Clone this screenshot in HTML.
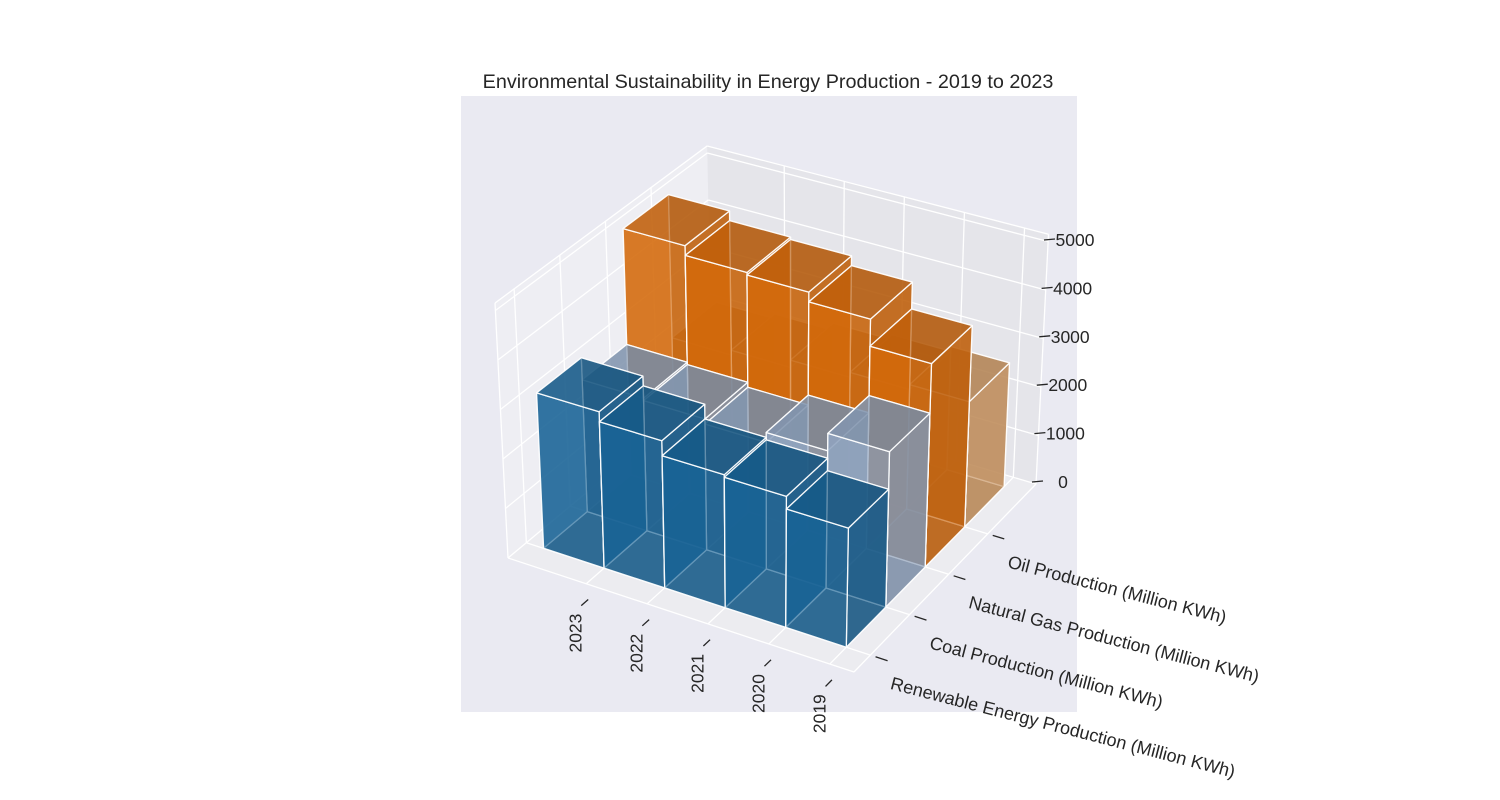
<!DOCTYPE html>
<html><head><meta charset="utf-8"><style>
body{margin:0;background:#fff;}
svg{display:block;font-family:"Liberation Sans",Arial,sans-serif;}
</style></head><body>
<svg id="chart" width="1500" height="800" viewBox="0 0 1500 800" xmlns="http://www.w3.org/2000/svg">
<rect x="0" y="0" width="1500" height="800" fill="#ffffff"/>
<rect x="461" y="96" width="616" height="616" fill="#eaeaf2"/>
<text x="768" y="88" text-anchor="middle" font-size="19.8" fill="#262626">Environmental Sustainability in Energy Production - 2019 to 2023</text>
<g id="panes"></g>
<g id="bars"></g>
<g id="axes"></g>
</svg>
<script>
const years = ['2023','2022','2021','2020','2019'];
const categories = ['Renewable Energy Production (Million KWh)','Coal Production (Million KWh)','Natural Gas Production (Million KWh)','Oil Production (Million KWh)'];
const renewable = [3150,2950,2650,2600,2350];
const coal = [2700,2650,2550,2750,3100];
const naturalGas = [5100,4900,4850,4650,4100];
const oil = [2100,2200,2350,2450,2550];
const zTicks = [0,1000,2000,3000,4000,5000];
const seriesColors = ['#1f77b4','#aec7e8','#ff7f0e','#ffbb78'];

const NS='http://www.w3.org/2000/svg';
const A=[508,558],B=[854,672],C=[1036,484],D=[712,388];
const K=[49.5,51,48.5,47], T=[-0.051,0.02,0.05,-0.02];
const ZTOP=5150, U0=0.05, DU=0.176, V0=0.09, DV=0.215;
function bil(a,b,c,d,u,v){return a*(1-u)*(1-v)+b*u*(1-v)+c*u*v+d*(1-u)*v;}
function P(u,v,val){
  const fx=bil(A[0],B[0],C[0],D[0],u,v), fy=bil(A[1],B[1],C[1],D[1],u,v);
  const h=val/1000*bil(K[0],K[1],K[2],K[3],u,v);
  const t=bil(T[0],T[1],T[2],T[3],u,v);
  return [fx+t*h, fy-h];
}
function xStart(i){return U0+DU*i;}
function yStart(j){return V0+DV*j;}
function zAxisY(val){return 482-val*0.0484;}
function pts(a){return a.map(p=>p[0].toFixed(1)+','+p[1].toFixed(1)).join(' ');}
function mk(tag,attrs,parent){const e=document.createElementNS(NS,tag);for(const k in attrs)e.setAttribute(k,attrs[k]);parent.appendChild(e);return e;}
function shade(hex,f){
  const r=parseInt(hex.slice(1,3),16),g=parseInt(hex.slice(3,5),16),b=parseInt(hex.slice(5,7),16);
  return 'rgb('+Math.round(r*f)+','+Math.round(g*f)+','+Math.round(b*f)+')';
}

const panes=document.getElementById('panes');
let e=mk('polygon',{points:pts([P(0,0,0),P(1,0,0),P(1,1,0),P(0,1,0)]),fill:'#ececf0'},panes);


e=mk('polygon',{points:pts([P(0,0,0),P(0,1,0),P(0,1,ZTOP),P(0,0,ZTOP)]),fill:'#eeeef3'},panes);


e=mk('polygon',{points:pts([P(0,1,0),P(1,1,0),P(1,1,ZTOP),P(0,1,ZTOP)]),fill:'#e5e5ea'},panes);


function gl(p,q,name){const l=mk('line',{x1:p[0],y1:p[1],x2:q[0],y2:q[1],stroke:'#ffffff','stroke-width':1.3},panes);
  
  }
years.forEach((y,i)=>{const u=xStart(i+1);gl(P(u,0,0),P(u,1,0),'floor-gridline-x');gl(P(u,1,0),P(u,1,ZTOP),'back-wall-gridline-x');});
categories.forEach((c,j)=>{const v=yStart(j);gl(P(0,v,0),P(1,v,0),'floor-gridline-y');gl(P(0,v,0),P(0,v,ZTOP),'left-wall-gridline-y');});
zTicks.forEach(z=>{gl(P(0,0,z),P(0,1,z),'left-wall-gridline-z');gl(P(0,1,z),P(1,1,z),'back-wall-gridline-z');});
gl(P(0,0,0),P(1,0,0),'x-axis-line');gl(P(1,0,0),P(1,1,0),'y-axis-line');gl(P(1,1,0),P(1,1,ZTOP),'z-axis-line');
gl(P(0,0,0),P(0,0,ZTOP),'pane-edge');gl(P(0,0,ZTOP),P(0,1,ZTOP),'pane-edge');gl(P(0,1,ZTOP),P(1,1,ZTOP),'pane-edge');

const seriesList=[renewable,coal,naturalGas,oil];
const barsG=document.getElementById('bars');
const order=[];
for(let j=seriesList.length-1;j>=0;j--) for(let i=0;i<years.length;i++) order.push([i,j]);
order.forEach(([i,j])=>{
  const val=seriesList[j][i];
  const u0=xStart(i),u1=xStart(i+1),v0=yStart(j),v1=yStart(j+1);
  const col=seriesColors[j];
  const g=mk('g',{},barsG);
  
  
  const faces=[
    [[P(u0,v0,0),P(u1,v0,0),P(u1,v1,0),P(u0,v1,0)],0.55],
    [[P(u0,v1,0),P(u1,v1,0),P(u1,v1,val),P(u0,v1,val)],0.65],
    [[P(u0,v0,0),P(u0,v1,0),P(u0,v1,val),P(u0,v0,val)],0.85],
    [[P(u1,v0,0),P(u1,v1,0),P(u1,v1,val),P(u1,v0,val)],0.78],
    [[P(u0,v0,0),P(u1,v0,0),P(u1,v0,val),P(u0,v0,val)],0.82],
    [[P(u0,v0,val),P(u1,v0,val),P(u1,v1,val),P(u0,v1,val)],0.72]
  ];
  faces.forEach(([poly,f])=>{
    mk('polygon',{points:pts(poly),fill:shade(col,f),'fill-opacity':0.66,stroke:'#ffffff','stroke-width':1.3,'stroke-opacity':0.9,'stroke-linejoin':'round'},g);
  });
});

const ax=document.getElementById('axes');
years.forEach((y,i)=>{
  const u=xStart(i+1);
  const p=P(u,-0.01,0),q=P(u,-0.045,0);
  let t=mk('line',{x1:p[0]+4,y1:p[1]+14,x2:q[0]+4,y2:q[1]+14,stroke:'#262626','stroke-width':1.3},ax);
  
  
  const m=[(p[0]+q[0])/2+4,(p[1]+q[1])/2+14];
  const tx=mk('text',{x:0,y:0,'font-size':17.5,fill:'#262626','text-anchor':'end',transform:'translate('+(m[0]-3).toFixed(1)+','+(m[1]+11).toFixed(1)+') rotate(-90)'},ax);
  tx.textContent=y;
  
  
});
categories.forEach((c,j)=>{
  const v=yStart(j);
  const p=P(1.015,v,0),q=P(1.05,v,0);
  let t=mk('line',{x1:p[0],y1:p[1],x2:q[0],y2:q[1],stroke:'#262626','stroke-width':1.3},ax);
  
  
  const tx=mk('text',{x:0,y:0,'font-size':18,fill:'#262626',transform:'translate('+(p[0]+14).toFixed(1)+','+(p[1]+32).toFixed(1)+') rotate(14.5)'},ax);
  tx.textContent=c;
  
  
});
zTicks.forEach(z=>{
  const y=zAxisY(z), x0=1032+z*0.0024;
  let t=mk('line',{x1:x0,y1:y,x2:x0+11,y2:y-1,stroke:'#262626','stroke-width':1.3},ax);
  
  
  const tx=mk('text',{x:(1063+z*0.0024).toFixed(1),y:(y+6).toFixed(1),'font-size':17.5,fill:'#262626','text-anchor':'middle'},ax);
  tx.textContent=String(z);
  
  
});
</script>
</body></html>
